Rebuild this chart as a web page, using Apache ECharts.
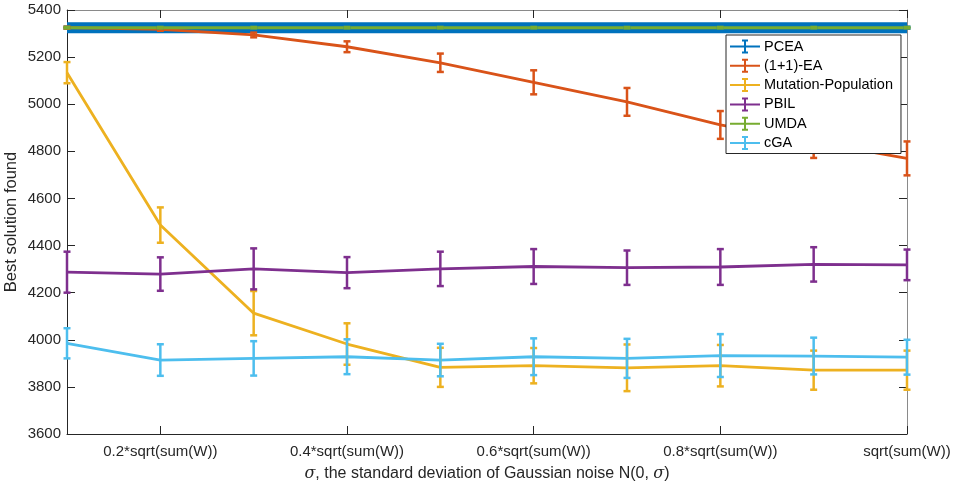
<!DOCTYPE html>
<html>
<head>
<meta charset="utf-8">
<script src="https://cdn.jsdelivr.net/npm/echarts@6/dist/echarts.min.js"></script>
<style>
  html, body { margin: 0; padding: 0; background: #fff; }
  #chart { width: 958px; height: 486px; }
</style>
</head>
<body>
<div id="chart"></div>
<script>
// Noise levels sigma = k * sqrt(sum(W)), k = 0.1 ... 1.0
const sigmaLabels = [
  '0.1*sqrt(sum(W))', '0.2*sqrt(sum(W))', '0.3*sqrt(sum(W))', '0.4*sqrt(sum(W))',
  '0.5*sqrt(sum(W))', '0.6*sqrt(sum(W))', '0.7*sqrt(sum(W))', '0.8*sqrt(sum(W))',
  '0.9*sqrt(sum(W))', 'sqrt(sum(W))'
];

// Mean best solution and its error half-width per algorithm
const pceaMean = [5325, 5325, 5325, 5325, 5325, 5325, 5325, 5325, 5325, 5325];
const pceaErr  = [4, 4, 4, 4, 4, 4, 4, 4, 4, 4];

const oneOneMean = [5325, 5318, 5294, 5244, 5176, 5093, 5010, 4912, 4840, 4770];
const oneOneErr  = [4, 6, 10, 23, 39, 51, 59, 59, 68, 72];

const mutPopMean = [5134, 4487, 4113, 3982, 3883, 3890, 3881, 3890, 3871, 3871];
const mutPopErr  = [45, 75, 94, 88, 83, 75, 99, 88, 83, 83];

const pbilMean = [4287, 4279, 4301, 4285, 4301, 4311, 4306, 4309, 4320, 4318];
const pbilErr  = [87, 71, 87, 66, 73, 74, 73, 76, 73, 65];

const umdaMean = [5325, 5325, 5325, 5325, 5325, 5325, 5325, 5325, 5325, 5325];
const umdaErr  = [3, 3, 3, 3, 3, 3, 3, 3, 3, 3];

const cgaMean = [3985, 3914, 3921, 3928, 3914, 3928, 3921, 3933, 3931, 3926];
const cgaErr  = [64, 67, 73, 74, 69, 78, 83, 91, 78, 74];

const algorithms = [
  { name: 'PCEA',                mean: pceaMean,   err: pceaErr,   color: '#0072BD', width: 11 },
  { name: '(1+1)-EA',            mean: oneOneMean, err: oneOneErr, color: '#D95319', width: 2.8 },
  { name: 'Mutation-Population', mean: mutPopMean, err: mutPopErr, color: '#EDB120', width: 2.8 },
  { name: 'PBIL',                mean: pbilMean,   err: pbilErr,   color: '#7E2F8E', width: 2.8 },
  { name: 'UMDA',                mean: umdaMean,   err: umdaErr,   color: '#77AC30', width: 3 },
  { name: 'cGA',                 mean: cgaMean,    err: cgaErr,    color: '#4DBEEE', width: 2.8 }
];

const FONT = '"Liberation Sans", Arial, Helvetica, sans-serif';
const AXIS_DARK = '#262626';
const AXIS_LIGHT = '#8a8a8a';

// Legend glyph: line with an error bar through its middle
const errorIcon = 'path://M0,6 L30,6 L30,8 L0,8 Z M14,1 L16,1 L16,13 L14,13 Z M12,0 L18,0 L18,2 L12,2 Z M12,12 L18,12 L18,14 L12,14 Z';

function errorBarSeries(alg) {
  return {
    type: 'custom',
    name: alg.name,
    z: 3,
    data: alg.mean.map((m, i) => [i, m - alg.err[i], m + alg.err[i]]),
    renderItem: function (params, api) {
      const lo = api.coord([api.value(0), api.value(1)]);
      const hi = api.coord([api.value(0), api.value(2)]);
      const cap = 3.5;
      const style = { stroke: alg.color, lineWidth: 2.5, fill: null };
      return {
        type: 'group',
        children: [
          { type: 'line', shape: { x1: lo[0], y1: lo[1], x2: hi[0], y2: hi[1] }, style },
          { type: 'line', shape: { x1: lo[0] - cap, y1: lo[1], x2: lo[0] + cap, y2: lo[1] }, style },
          { type: 'line', shape: { x1: hi[0] - cap, y1: hi[1], x2: hi[0] + cap, y2: hi[1] }, style }
        ]
      };
    },
    silent: true
  };
}

const series = [];
algorithms.forEach(alg => {
  series.push({
    type: 'line',
    name: alg.name,
    data: alg.mean,
    symbol: 'none',
    color: alg.color,
    lineStyle: { color: alg.color, width: alg.width },
    z: 2,
    animation: false
  });
  series.push(errorBarSeries(alg));
});

const chart = echarts.init(document.getElementById('chart'), null, { renderer: 'canvas' });

chart.setOption({
  animation: false,
  backgroundColor: '#ffffff',
  grid: { left: 67, right: 51, top: 10, bottom: 52, containLabel: false, outerBoundsMode: 'none' },
  legend: {
    data: algorithms.map(a => ({ name: a.name, icon: errorIcon, itemStyle: { color: a.color } })),
    orient: 'vertical',
    left: 726,
    top: 35,
    width: 175,
    itemWidth: 30,
    itemHeight: 14,
    itemGap: 4.3,
    padding: [4, 8, 3, 4],
    backgroundColor: '#ffffff',
    borderColor: '#262626',
    borderWidth: 1,
    selectedMode: false,
    textStyle: { fontFamily: FONT, fontSize: 14.5, color: '#000', padding: [0, 0, 0, -1] }
  },
  xAxis: [
    {
      type: 'category',
      data: sigmaLabels,
      boundaryGap: false,
      position: 'bottom',
      axisLine: { show: true, lineStyle: { color: AXIS_DARK, width: 1 } },
      axisTick: { show: true, inside: true, length: 8, interval: i => i % 2 === 1, lineStyle: { color: AXIS_DARK } },
      axisLabel: {
        interval: i => i % 2 === 1,
        margin: 10,
        fontFamily: FONT, fontSize: 15, color: '#262626'
      },
      splitLine: { show: false },
      name: '{it|σ}, the standard deviation of Gaussian noise N(0, {it|σ})',
      nameLocation: 'middle',
      nameGap: 32,
      nameMoveOverlap: false,
      nameTextStyle: {
        fontFamily: FONT, fontSize: 16, color: '#262626',
        rich: { it: { fontFamily: '"DejaVu Serif", "Liberation Serif", serif', fontStyle: 'italic', fontSize: 16, color: '#262626' } }
      }
    },
    {
      type: 'category',
      data: sigmaLabels,
      boundaryGap: false,
      position: 'top',
      axisLine: { show: true, lineStyle: { color: AXIS_LIGHT, width: 1 } },
      axisTick: { show: true, inside: true, length: 8, interval: i => i % 2 === 1, lineStyle: { color: AXIS_DARK } },
      axisLabel: { show: false },
      splitLine: { show: false }
    }
  ],
  yAxis: [
    {
      type: 'value',
      min: 3600,
      max: 5400,
      interval: 200,
      position: 'left',
      axisLine: { show: true, lineStyle: { color: AXIS_DARK, width: 1 } },
      axisTick: { show: true, inside: true, length: 8, lineStyle: { color: AXIS_DARK } },
      axisLabel: { margin: 6, fontFamily: FONT, fontSize: 15, color: '#262626', formatter: v => String(v) },
      splitLine: { show: false },
      name: 'Best solution found',
      nameLocation: 'middle',
      nameGap: 47,
      nameMoveOverlap: false,
      nameTextStyle: { fontFamily: FONT, fontSize: 16.5, color: '#262626' }
    },
    {
      type: 'value',
      min: 3600,
      max: 5400,
      interval: 200,
      position: 'right',
      axisLine: { show: true, lineStyle: { color: AXIS_LIGHT, width: 1 } },
      axisTick: { show: true, inside: true, length: 8, lineStyle: { color: AXIS_DARK } },
      axisLabel: { show: false },
      splitLine: { show: false }
    }
  ],
  series: series
});
</script>
</body>
</html>
